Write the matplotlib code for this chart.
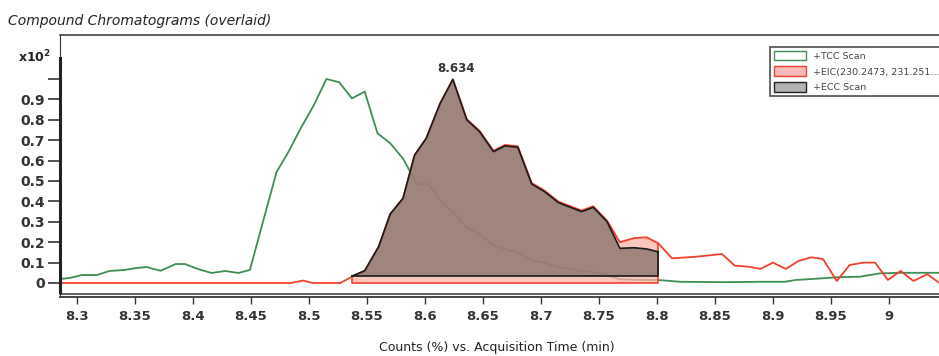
import matplotlib
matplotlib.use('Agg')
import matplotlib.pyplot as plt
from matplotlib.patches import Patch
import numpy as np

# TCC scan (green trace)
tcc_t = [8.286, 8.294, 8.304, 8.317, 8.328, 8.341, 8.352, 8.360, 8.372, 8.385,
         8.393, 8.404, 8.416, 8.428, 8.439, 8.449, 8.460, 8.472, 8.482, 8.493,
         8.504, 8.515, 8.526, 8.537, 8.548, 8.559, 8.570, 8.581, 8.593, 8.603,
         8.614, 8.625, 8.636, 8.647, 8.659, 8.670, 8.679, 8.692, 8.703, 8.714,
         8.725, 8.737, 8.748, 8.758, 8.768, 8.780, 8.800, 8.820, 8.840, 8.860,
         8.889, 8.910, 8.920, 8.935, 8.955, 8.975, 8.992, 9.009, 9.043]
tcc_v = [0.020, 0.025, 0.039, 0.039, 0.059, 0.064, 0.074, 0.078, 0.060, 0.093,
         0.093, 0.069, 0.049, 0.059, 0.049, 0.064, 0.294, 0.544, 0.640, 0.760,
         0.870, 1.000, 0.984, 0.905, 0.938, 0.734, 0.685, 0.610, 0.485, 0.485,
         0.400, 0.345, 0.272, 0.240, 0.183, 0.165, 0.150, 0.113, 0.098, 0.080,
         0.068, 0.058, 0.051, 0.035, 0.018, 0.016, 0.015, 0.006, 0.005, 0.004,
         0.006, 0.006, 0.015, 0.020, 0.028, 0.031, 0.047, 0.050, 0.050]

# ECC scan (integrated peak)
ecc_t = [8.537, 8.548, 8.560, 8.570, 8.581, 8.591, 8.601, 8.613, 8.624, 8.636,
         8.647, 8.659, 8.669, 8.680, 8.692, 8.703, 8.715, 8.725, 8.735, 8.745,
         8.757, 8.768, 8.780, 8.791, 8.801]
ecc_v = [0.034, 0.060, 0.178, 0.338, 0.415, 0.627, 0.709, 0.880, 0.998, 0.800,
         0.742, 0.644, 0.672, 0.665, 0.485, 0.448, 0.394, 0.372, 0.350, 0.371,
         0.300, 0.170, 0.173, 0.167, 0.153]
ecc_base = 0.034

# EIC trace (red)
eic_t = [8.286, 8.484, 8.495, 8.503, 8.527, 8.537, 8.548, 8.560, 8.570, 8.581,
         8.591, 8.601, 8.613, 8.624, 8.636, 8.647, 8.659, 8.669, 8.680, 8.692,
         8.703, 8.715, 8.725, 8.735, 8.745, 8.757, 8.768, 8.780, 8.791, 8.801,
         8.813, 8.834, 8.856, 8.867, 8.879, 8.889, 8.900, 8.911, 8.922, 8.933,
         8.943, 8.955, 8.966, 8.978, 8.988, 8.999, 9.010, 9.021, 9.033, 9.043]
eic_v = [0.000, 0.000, 0.012, 0.000, 0.000, 0.031, 0.060, 0.178, 0.338, 0.415,
         0.627, 0.709, 0.880, 0.998, 0.803, 0.746, 0.648, 0.677, 0.670, 0.490,
         0.453, 0.399, 0.377, 0.355, 0.376, 0.305, 0.200, 0.220, 0.224, 0.195,
         0.121, 0.129, 0.142, 0.085, 0.080, 0.069, 0.100, 0.069, 0.108, 0.126,
         0.118, 0.010, 0.088, 0.100, 0.100, 0.015, 0.059, 0.010, 0.043, 0.002]

peak_label = "8.634"
x_ticks = [8.3, 8.35, 8.4, 8.45, 8.5, 8.55, 8.6, 8.65, 8.7, 8.75, 8.8, 8.85, 8.9, 8.95, 9]
x_labels = ["8.3", "8.35", "8.4", "8.45", "8.5", "8.55", "8.6", "8.65", "8.7",
            "8.75", "8.8", "8.85", "8.9", "8.95", "9"]
y_ticks = [0, 0.1, 0.2, 0.3, 0.4, 0.5, 0.6, 0.7, 0.8, 0.9, 1.0]
y_labels = ["0", "0.1", "0.2", "0.3", "0.4", "0.5", "0.6", "0.7", "0.8", "0.9", ""]

W, H = 939, 356
fig = plt.figure(figsize=(W / 100, H / 100), dpi=100)

# axes box in pixels: left 60, right 939, top 35, bottom 297
ax = fig.add_axes([60 / W, (H - 297) / H, 1 - 60 / W, (297 - 35) / H])
ax.set_xlim(8.2853, 9.0431)
ax.set_ylim((283 - 297) / 204, (283 - 35) / 204)

green = '#3d8f52'
red = '#f2402e'

ax.plot(tcc_t, tcc_v, color=green, lw=1.3, zorder=1)

# EIC integration area
m = np.array(eic_t) >= 8.537
m &= np.array(eic_t) <= 8.8015
it = np.array(eic_t)[m]
iv = np.array(eic_v)[m]
ax.fill_between(it, 0, iv, facecolor='#fbb5a6', alpha=0.75, lw=0, zorder=2)
ax.plot([it[0], it[0], it[-1], it[-1]], [iv[0], 0, 0, iv[-1]], color=red, lw=1.2, zorder=3)
ax.plot(eic_t, eic_v, color=red, lw=1.3, zorder=3)

# ECC integration area (semi-transparent so the green trace shows through)
ax.fill_between(ecc_t, ecc_base, ecc_v, facecolor='#826f67', alpha=0.75, lw=0, zorder=4)
ax.plot(ecc_t, ecc_v, color='#1a1a1a', lw=1.2, zorder=5)
ax.plot([ecc_t[0], ecc_t[-1], ecc_t[-1]], [ecc_base, ecc_base, ecc_v[-1]],
        color='#1a1a1a', lw=1.2, zorder=5)

ipk = int(np.argmax(ecc_v))
ax.annotate(peak_label, (ecc_t[ipk], ecc_v[ipk]), xytext=(2, 3), textcoords='offset points',
            ha='center', va='bottom', fontsize=8.5, fontweight='bold', color='#333333')

# frame and spines
for s in ['top', 'right']:
    ax.spines[s].set_visible(False)
ax.spines['left'].set_linewidth(0.8)
ax.spines['left'].set_color('#333333')
ax.plot([8.2853, 8.2853], [(283 - 58) / 204, (283 - 292) / 204], color='#222222',
        lw=2.2, clip_on=False, zorder=6)
ax.plot([0, 1], [1, 1], transform=ax.transAxes, color='#444444', lw=1.2, clip_on=False)
ax.spines['bottom'].set_linewidth(1.4)
ax.spines['bottom'].set_color('#444444')
ax.axhline((283 - 294) / 204, color='#444444', lw=1.2, clip_on=False)

ax.set_xticks(x_ticks)
ax.set_xticklabels(x_labels)
ax.set_yticks(y_ticks)
ax.set_yticklabels(y_labels)
ax.tick_params(axis='x', direction='out', length=5, width=1, colors='#333333',
               labelsize=9.5, pad=4)
ax.tick_params(axis='y', direction='out', length=9, width=1.2, colors='#333333',
               labelsize=10, pad=2)
for lab in ax.get_xticklabels() + ax.get_yticklabels():
    lab.set_fontweight('bold')
    lab.set_color('#333333')

fig.text(8 / W, 1 - 21 / H, "Compound Chromatograms (overlaid)", fontsize=10,
         style='italic', color='#222222', va='center', ha='left')
fig.text(18 / W, 1 - 57 / H, r"x10$^{\mathbf{2}}$", fontsize=9, fontweight='bold',
         color='#222222', va='center', ha='left')
fig.text(497 / W, 1 - 347 / H, "Counts (%) vs. Acquisition Time (min)", fontsize=9,
         color='#222222', ha='center', va='center')

handles = [Patch(facecolor='white', edgecolor=green, lw=1),
           Patch(facecolor='#f9b8b8', edgecolor=red, lw=1),
           Patch(facecolor='#b3b3b3', edgecolor='#222222', lw=1)]
labels = ["+TCC Scan", "+EIC(230.2473, 231.251...", "+ECC Scan"]
leg = fig.legend(handles, labels, loc='upper left', bbox_to_anchor=(770 / W, 1 - 47 / H),
                 fontsize=6.8, frameon=True, fancybox=False, borderpad=0.4,
                 handlelength=3.4, handleheight=1.2, labelspacing=0.6,
                 handletextpad=0.8, borderaxespad=0)
leg.get_frame().set_edgecolor('#222222')
leg.get_frame().set_linewidth(1.2)
for t in leg.get_texts():
    t.set_color('#444444')

fig.savefig('out.png', dpi=100)
